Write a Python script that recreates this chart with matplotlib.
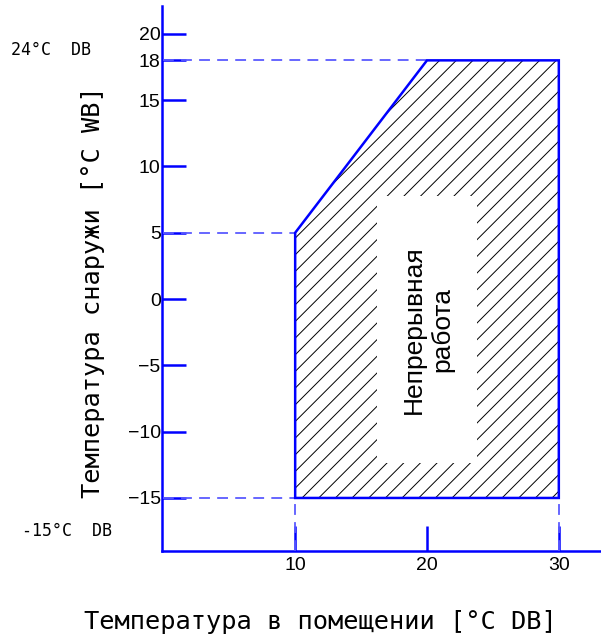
import matplotlib
matplotlib.use("Agg")
import matplotlib.pyplot as plt
from matplotlib.patches import Polygon, Rectangle

# operating range outline (indoor DB, outdoor WB)
zone_x = [10, 10, 20, 30, 30]
zone_y = [-15, 5, 18, 18, -15]
y_ticks = [20, 18, 15, 10, 5, 0, -5, -10, -15]
y_labels = ["20", "18", "15", "10", "5", "0", "\u22125", "\u221210", "\u221215"]
x_ticks = [10, 20, 30]
x_labels = ["10", "20", "30"]
guide_y = [18, 5, -15]
guide_x_end = [20, 10, 10]
guide_x = [10, 30]

BLUE = "#0000ff"
LIGHT = "#5a5aff"
tick_font = ["Liberation Sans", "DejaVu Sans"]
mono = ["DejaVu Sans Mono"]

plt.rcParams["hatch.color"] = "black"
plt.rcParams["hatch.linewidth"] = 0.7

fig = plt.figure(figsize=(6.01, 6.37), dpi=100)
ax = fig.add_axes([0.2696, 0.135, 0.7304, 0.8556])
ax.set_xlim(-0.1, 33.2)
ax.set_ylim(-19, 22.1)

pts = list(zip(zone_x, zone_y))
ax.add_patch(Polygon(pts, closed=True, facecolor="none", edgecolor="black",
                     hatch="//", linewidth=0, zorder=1))
# clear area behind the label
ax.add_patch(Rectangle((16.2, -12.4), 7.6, 20.2, facecolor="white",
                       edgecolor="none", zorder=2))
ax.add_patch(Polygon(pts, closed=True, facecolor="none", edgecolor=BLUE,
                     linewidth=1.8, zorder=4))

for y, xe in zip(guide_y, guide_x_end):
    ax.plot([0, xe], [y, y], color=LIGHT, lw=1.3, dashes=(6, 4), zorder=3)
for x in guide_x:
    ax.plot([x, x], [-19, -15], color=LIGHT, lw=1.3, dashes=(6, 4), zorder=3)

ax.text(20.1, -2.3, "Непрерывная\nработа", rotation=90, ha="center", va="center",
        fontsize=19, family=["Liberation Sans", "DejaVu Sans"], linespacing=1.25,
        zorder=5)

for s in ["top", "right"]:
    ax.spines[s].set_visible(False)
for s in ["left", "bottom"]:
    ax.spines[s].set_color(BLUE)
    ax.spines[s].set_linewidth(1.8)

ax.set_yticks(y_ticks)
ax.set_yticklabels(y_labels, family=tick_font, fontsize=14)
ax.set_xticks(x_ticks)
ax.set_xticklabels(x_labels, family=tick_font, fontsize=14)
ax.tick_params(axis="y", direction="in", length=17, width=1.8, color=BLUE, pad=1)
ax.tick_params(axis="x", direction="in", length=18, width=1.8, color=BLUE, pad=4)

fig.text(93 / 601, 1 - 292 / 637, "Температура снаружи [°C WB]", rotation=90,
         ha="center", va="center", fontsize=18.3, family=mono)
fig.text(320 / 601, 1 - 622 / 637, "Температура в помещении [°C DB]",
         ha="center", va="center", fontsize=18.3, family=mono)
fig.text(11 / 601, 1 - 50 / 637, "24°C  DB", ha="left", va="center",
         fontsize=12, family=mono)
fig.text(22 / 601, 1 - 531 / 637, "-15°C  DB", ha="left", va="center",
         fontsize=12, family=mono)

fig.savefig("out.png", dpi=100)
